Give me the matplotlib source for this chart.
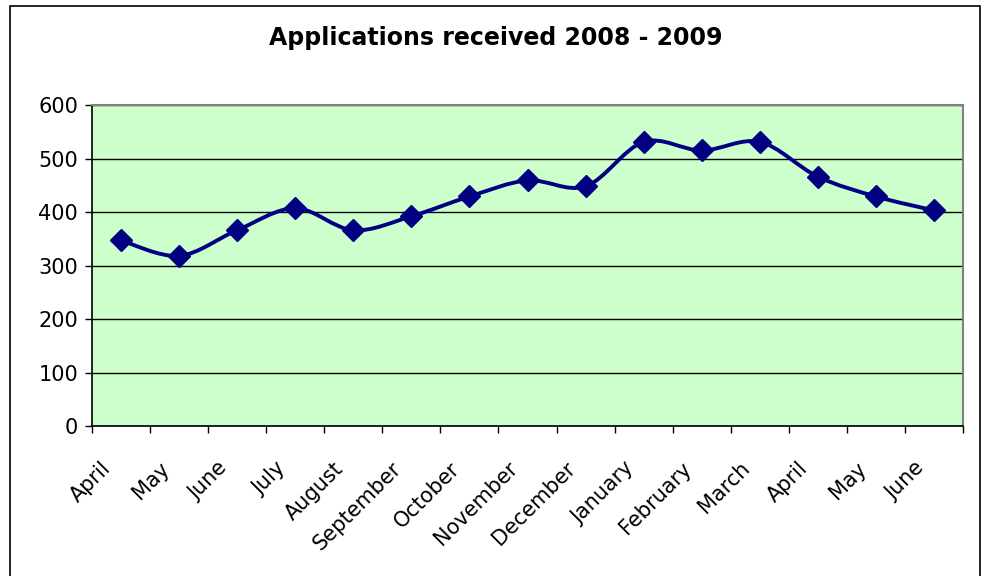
import matplotlib.pyplot as plt
from matplotlib.path import Path
from matplotlib.patches import PathPatch, Rectangle
from matplotlib.transforms import ScaledTranslation
import numpy as np

months = ["April", "May", "June", "July", "August", "September", "October",
          "November", "December", "January", "February", "March", "April",
          "May", "June"]
applications = [347, 318, 366, 407, 366, 392, 429, 459, 448, 531, 515, 531,
                466, 429, 403]

navy = "#000080"

fig = plt.figure(figsize=(9.86, 5.76), dpi=100)
ax = fig.add_axes([0.0933, 0.2604, 0.8834, 0.5573])
ax.set_facecolor("#ccffcc")

# smoothed line (Excel-style bezier through the points)
x = np.arange(len(applications), dtype=float)
y = np.array(applications, dtype=float)
pts = np.column_stack([x, y])
verts = [pts[0]]
codes = [Path.MOVETO]
for i in range(len(pts) - 1):
    p0 = pts[i - 1] if i > 0 else pts[i]
    p1 = pts[i]
    p2 = pts[i + 1]
    p3 = pts[i + 2] if i + 2 < len(pts) else pts[i + 1]
    c1 = p1 + (p2 - p0) / 6.0
    c2 = p2 - (p3 - p1) / 6.0
    verts += [c1, c2, p2]
    codes += [Path.CURVE4] * 3
ax.add_patch(PathPatch(Path(verts, codes), fill=False, edgecolor=navy,
                       lw=2.8, zorder=3))
ax.plot(x, y, linestyle="none", marker="D", markersize=11.5, color=navy,
        zorder=4)

ax.set_xlim(-0.5, len(months) - 0.5)
ax.set_ylim(0, 600)
ax.set_yticks(range(0, 601, 100))
ax.yaxis.grid(True, color="black", lw=1.0)
ax.set_axisbelow(True)

ax.set_xticks(x)
ax.set_xticklabels(months, rotation=45, ha="right", rotation_mode="anchor",
                   fontsize=15)
ax.tick_params(axis="x", length=0, pad=16)
offset = ScaledTranslation(-0.20, -0.10, fig.dpi_scale_trans)
for lbl in ax.get_xticklabels():
    lbl.set_transform(lbl.get_transform() + offset)
ax.set_xticks(np.arange(-0.5, len(months), 1.0), minor=True)
ax.tick_params(axis="x", which="minor", length=5, width=1, direction="out")
ax.tick_params(axis="y", length=5, width=1, labelsize=15, pad=5)

for s in ["top", "right"]:
    ax.spines[s].set_color("#808080")
    ax.spines[s].set_linewidth(1.5)
for s in ["left", "bottom"]:
    ax.spines[s].set_color("black")
    ax.spines[s].set_linewidth(1.2)

fig.text(0.503, 0.934, "Applications received 2008 - 2009", ha="center",
         va="center", fontsize=17, fontweight="bold")

fig.patches.append(Rectangle((10 / 986, -0.05), 970 / 986, 1.05 - 5.5 / 576,
                             transform=fig.transFigure, fill=False,
                             edgecolor="black", lw=1.2))

fig.savefig("out.png", dpi=100)
